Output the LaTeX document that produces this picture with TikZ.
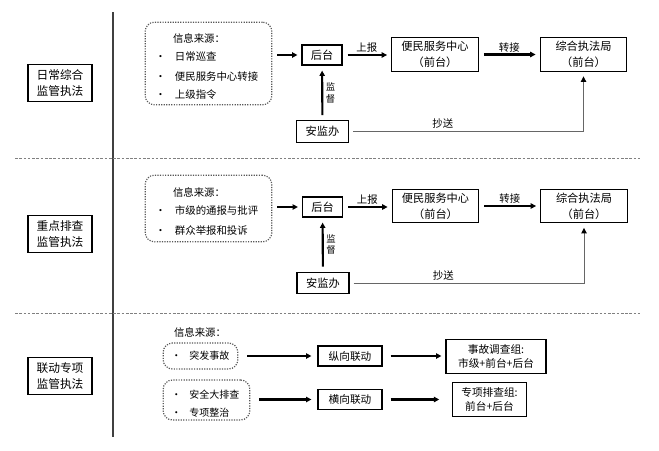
\documentclass[tikz,border=0pt]{standalone}
\usepackage{fontspec}
\newfontfamily\cjk{Noto Sans CJK SC}
\usetikzlibrary{arrows.meta}

\begin{document}
\begin{tikzpicture}[x=0.75pt, y=-0.75pt,
    font=\cjk\fontsize{7.8}{11}\selectfont,
    box/.style={draw, line width=0.9pt, inner sep=1pt, align=center, font=\cjk\fontsize{8.4}{12}\selectfont},
    secbox/.style={box, minimum width=48pt, minimum height=28pt, font=\cjk\fontsize{8.8}{11.5}\selectfont},
    srcbox/.style={draw=gray!70!black, densely dotted, line width=0.9pt, rounded corners=7pt},
    item/.style={anchor=west, inner sep=0pt},
    flow/.style={-{Triangle[length=4pt,width=4pt]}, line width=1.6pt},
    cc/.style={-{Triangle[length=4pt,width=4pt,black]}, gray!80!black, line width=0.6pt},
    sep/.style={gray, dash pattern=on 2pt off 1.2pt, line width=0.5pt}]
    \useasboundingbox (0,0) rectangle (659,450);

    % frame
    \draw[gray!50!black, line width=1.4pt] (113,12) -- (113,437);
    \draw[sep] (15,158) -- (640,158);
    \draw[sep] (15,313) -- (640,313);

    % first row
    \node[secbox] (l1) at (60,83) {日常综合\\监管执法};
    \node[srcbox, minimum width=95pt, minimum height=62pt] (src1) at (208.5,63.5) {};
    \node (h1) at (199,39) {信息来源：};
    \node[item] (s1a) at (155,57) {•\hspace{7pt}日常巡查};
    \node[item] (s1b) at (155,77) {•\hspace{7pt}便民服务中心转接};
    \node[item] (s1c) at (155,95) {•\hspace{7pt}上级指令};
    \node[box, minimum width=30pt, minimum height=15pt] (ht1) at (322,55) {后台};
    \node[box, minimum width=65pt, minimum height=25pt] (bm1) at (435,54.5) {便民服务中心\\（前台）};
    \node[box, minimum width=65pt, minimum height=25pt] (zf1) at (583.5,54.5) {综合执法局\\（前台）};
    \node[box, minimum width=39pt, minimum height=16pt] (aj1) at (322.5,131.5) {安监办};
    \draw[flow, shorten <=3.75pt, shorten >=3pt] (src1.east |- ht1) -- (ht1);
    \draw[flow, shorten <=3.75pt, shorten >=3pt] (ht1.east) -- node[above, inner sep=1pt] {上报} (ht1.east -| bm1.west);
    \draw[flow, shorten <=3.75pt, shorten >=3pt] (bm1.east) -- node[above, inner sep=1pt] {转接} (bm1.east -| zf1.west);
    \draw[flow, shorten <=3.75pt, shorten >=3.75pt] (aj1) -- node[right, align=center, inner sep=2pt, font=\cjk\fontsize{7}{8.5}\selectfont] {监\\督} (ht1);
    \draw[cc, shorten <=3pt, shorten >=3.5pt] (aj1) -| node[pos=0.2, above, inner sep=2pt, text=black] {抄送} (zf1);

    % second row
    \node[secbox] (l2) at (60,234) {重点排查\\监管执法};
    \node[srcbox, minimum width=95pt, minimum height=50pt] (src2) at (208.5,208.5) {};
    \node (h2) at (199,193) {信息来源：};
    \node[item] (s2a) at (155,211) {•\hspace{7pt}市级的通报与批评};
    \node[item] (s2b) at (155,231) {•\hspace{7pt}群众举报和投诉};
    \node[box, minimum width=30pt, minimum height=15pt] (ht2) at (322.5,207) {后台};
    \node[box, minimum width=65pt, minimum height=25pt] (bm2) at (435.5,206) {便民服务中心\\（前台）};
    \node[box, minimum width=65pt, minimum height=25pt] (zf2) at (584,206) {综合执法局\\（前台）};
    \node[box, minimum width=39pt, minimum height=16pt] (aj2) at (323,283) {安监办};
    \draw[flow, shorten <=3.75pt, shorten >=3pt] (src2.east |- ht2) -- (ht2);
    \draw[flow, shorten <=3.75pt, shorten >=3pt] (ht2.east) -- node[above, inner sep=1pt] {上报} (ht2.east -| bm2.west);
    \draw[flow, shorten <=3.75pt, shorten >=3pt] (bm2.east) -- node[above, inner sep=1pt] {转接} (bm2.east -| zf2.west);
    \draw[flow, shorten <=3.75pt, shorten >=3.75pt] (aj2) -- node[right, align=center, inner sep=2pt, font=\cjk\fontsize{7}{8.5}\selectfont] {监\\督} (ht2);
    \draw[cc, shorten <=3pt, shorten >=3.5pt] (aj2) -| node[pos=0.2, above, inner sep=2pt, text=black] {抄送} (zf2);

    % third row
    \node[secbox] (l3) at (60,376) {联动专项\\监管执法};
    \node (h3) at (200,333) {信息来源：};
    \node[srcbox, minimum width=56pt, minimum height=19.5pt] (sb1) at (200.5,356) {};
    \node[item, font=\cjk\fontsize{7.5}{10}\selectfont] (s3a) at (171,356) {•\hspace{6pt}突发事故};
    \node[srcbox, minimum width=65pt, minimum height=30pt] (sb2) at (206.5,400) {};
    \node[item, font=\cjk\fontsize{7.5}{10}\selectfont] (s3b) at (171,395) {•\hspace{6pt}安全大排查};
    \node[item, font=\cjk\fontsize{7.5}{10}\selectfont] (s3c) at (171,413) {•\hspace{6pt}专项整治};
    \node[box, minimum width=48pt, minimum height=15pt, font=\cjk\fontsize{8}{11}\selectfont] (zx) at (350,356) {纵向联动};
    \node[box, minimum width=75pt, minimum height=25pt, font=\cjk\fontsize{8}{11}\selectfont] (sg) at (496,356.5) {事故调查组:\\市级+前台+后台};
    \node[box, minimum width=48pt, minimum height=15pt, font=\cjk\fontsize{8}{11}\selectfont] (hx) at (350,399.5) {横向联动};
    \node[box, minimum width=55pt, minimum height=25pt, font=\cjk\fontsize{8}{11}\selectfont] (zp) at (489.5,399.5) {专项排查组:\\前台+后台};
    \draw[flow, shorten <=6.75pt, shorten >=4.5pt] (sb1.east |- zx) -- (zx);
    \draw[flow, shorten <=6pt, shorten >=3pt] (zx.east) -- (zx.east -| sg.west);
    \draw[flow, shorten <=6.75pt, shorten >=4.5pt] (sb2.east |- hx) -- (hx);
    \draw[flow, shorten <=6pt, shorten >=9.75pt] (hx.east) -- (hx.east -| zp.west);
\end{tikzpicture}
\end{document}
